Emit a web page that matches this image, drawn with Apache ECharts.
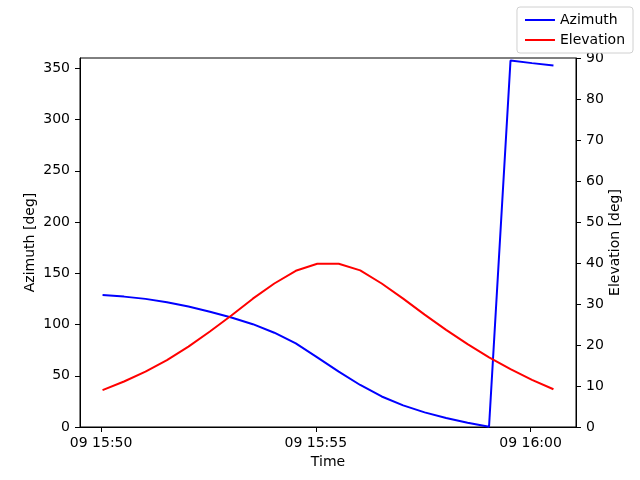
<!DOCTYPE html>
<html>
<head>
<meta charset="utf-8">
<script src="https://cdn.jsdelivr.net/npm/echarts@6/dist/echarts.min.js"></script>
<style>html,body{margin:0;padding:0;background:#fff}#c{width:640px;height:480px}</style>
</head>
<body>
<div id="c"></div>
<script>
const times = ["15:50:02","15:50:32","15:51:02","15:51:32","15:52:02","15:52:32","15:53:02","15:53:32","15:54:02","15:54:32","15:55:02","15:55:32","15:56:02","15:56:32","15:57:02","15:57:32","15:58:02","15:58:32","15:59:02","15:59:32","16:00:02","16:00:32"];
const azimuth = [128.8,127.2,125.0,121.8,117.5,112.4,106.8,100.3,92.0,81.5,68.0,54.0,41.0,29.8,21.1,14.3,8.8,4.2,0.2,357.5,355.0,352.6];
const elevation = [9.0,11.1,13.5,16.3,19.6,23.3,27.2,31.3,35.0,38.1,39.8,39.8,38.2,35.0,31.3,27.4,23.7,20.2,17.0,14.1,11.5,9.2];
const xTicks = ["15:50:00","15:55:00","16:00:00"];
const azTicks = [0,50,100,150,200,250,300,350];
const elTicks = [0,10,20,30,40,50,60,70,80,90];

const day = 9;
function toMs(t){const p=t.split(':').map(Number);return Date.UTC(2024,0,day,p[0],p[1],p[2]);}
function fmt(ms){const d=new Date(ms);const pad=n=>String(n).padStart(2,'0');return pad(d.getUTCDate())+' '+pad(d.getUTCHours())+':'+pad(d.getUTCMinutes());}
const xs = times.map(toMs);
const span = xs[xs.length-1]-xs[0];
const xMin = xs[0]-span*0.05, xMax = xs[xs.length-1]+span*0.05;
const font = 'DejaVu Sans';
const fs = 14;
const chart = echarts.init(document.getElementById('c'));
chart.setOption({
  animation:false,
  textStyle:{fontFamily:font},
  grid:{left:80,right:64,top:58,bottom:53,show:true,borderColor:'#000',borderWidth:1,backgroundColor:'transparent'},
  legend:{
    orient:'vertical',right:7,top:7,
    backgroundColor:'#fff',borderColor:'#d0d0d0',borderWidth:1,borderRadius:3,
    padding:[6,8,6,8],itemGap:6,itemWidth:30,itemHeight:2,icon:'rect',
    textStyle:{fontFamily:font,fontSize:fs,color:'#000'},
    data:['Azimuth','Elevation']
  },
  xAxis:{
    type:'value',min:xMin,max:xMax,
    name:'Time',nameLocation:'middle',nameGap:28,nameMoveOverlap:false,
    nameTextStyle:{fontFamily:font,fontSize:fs,color:'#000'},
    splitLine:{show:false},
    axisLine:{show:true,lineStyle:{color:'#000',width:1}},
    axisTick:{show:true,length:5,lineStyle:{color:'#000'},customValues:xTicks.map(toMs)},
    axisLabel:{fontFamily:font,fontSize:fs,color:'#000',margin:9,customValues:xTicks.map(toMs),formatter:v=>fmt(v)}
  },
  yAxis:[{
    type:'value',min:0,max:360,position:'left',
    name:'Azimuth [deg]',nameLocation:'middle',nameGap:43,nameRotate:90,nameMoveOverlap:false,
    nameTextStyle:{fontFamily:font,fontSize:fs,color:'#000'},
    splitLine:{show:false},
    axisLine:{show:true,lineStyle:{color:'#000',width:1}},
    axisTick:{show:true,length:5,lineStyle:{color:'#000'},customValues:azTicks},
    axisLabel:{fontFamily:font,fontSize:fs,color:'#000',margin:10,customValues:azTicks}
  },{
    type:'value',min:0,max:90,position:'right',
    name:'Elevation [deg]',nameLocation:'middle',nameGap:32,nameRotate:90,nameMoveOverlap:false,
    nameTextStyle:{fontFamily:font,fontSize:fs,color:'#000'},
    splitLine:{show:false},
    axisLine:{show:true,lineStyle:{color:'#000',width:1}},
    axisTick:{show:true,length:5,lineStyle:{color:'#000'},customValues:elTicks},
    axisLabel:{fontFamily:font,fontSize:fs,color:'#000',margin:10,customValues:elTicks}
  }],
  series:[{
    name:'Azimuth',type:'line',yAxisIndex:0,showSymbol:false,symbol:'none',
    color:'#0000ff',lineStyle:{color:'#0000ff',width:2},
    data:xs.map((x,i)=>[x,azimuth[i]])
  },{
    name:'Elevation',type:'line',yAxisIndex:1,showSymbol:false,symbol:'none',
    color:'#ff0000',lineStyle:{color:'#ff0000',width:2},
    data:xs.map((x,i)=>[x,elevation[i]])
  }]
});
</script>
</body>
</html>
